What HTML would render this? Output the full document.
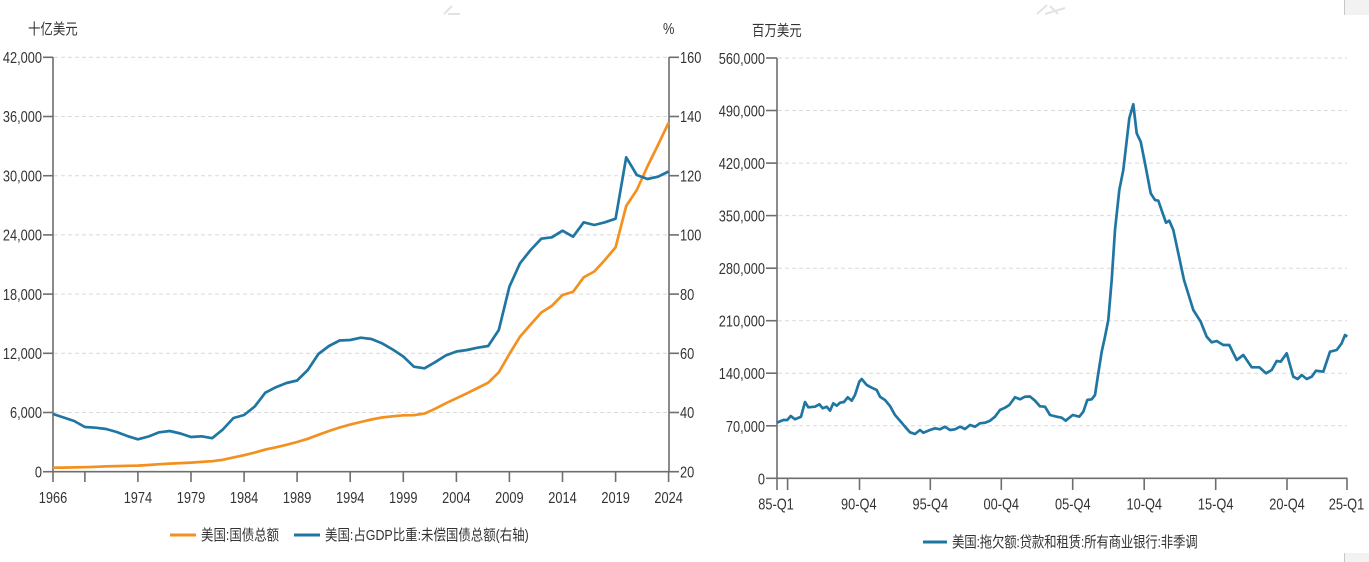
<!DOCTYPE html>
<html><head><meta charset="utf-8"><style>
html,body{margin:0;padding:0;background:#fff;}
svg{display:block;}
text{font-family:"Liberation Sans","Noto Sans CJK SC",sans-serif;fill:#333;font-size:16px;}
.cj text{font-size:15px;}
.g{stroke:#d9d9d9;stroke-width:1;stroke-dasharray:4,3;fill:none;}
.ax{stroke:#6e6e6e;stroke-width:1.6;fill:none;}
</style></head><body>
<svg width="1369" height="562" viewBox="0 0 1369 562" xmlns="http://www.w3.org/2000/svg">
<rect x="0" y="0" width="1369" height="562" fill="#fff"/>
<!-- faint watermark marks -->
<path d="M444 14 L452 6 M448 14 L460 14" stroke="#e3e3e3" stroke-width="2" fill="none"/>
<path d="M1037 14 L1047 5 M1045 14 L1065 8 M1050 6 L1058 14" stroke="#e3e3e3" stroke-width="2" fill="none"/>
<rect x="1345" y="0" width="24" height="15" fill="#f2f2f2"/>
<line x1="1344.5" y1="0" x2="1344.5" y2="15" stroke="#c8c8c8"/>
<rect x="1345" y="553" width="24" height="9" fill="#f2f2f2"/>
<line x1="1344.5" y1="553" x2="1344.5" y2="562" stroke="#c8c8c8"/>

<!-- ===== LEFT CHART ===== -->
<g>
<line class="g" x1="54" y1="57.3" x2="669" y2="57.3"/>
<line class="g" x1="54" y1="116.5" x2="669" y2="116.5"/>
<line class="g" x1="54" y1="175.7" x2="669" y2="175.7"/>
<line class="g" x1="54" y1="234.9" x2="669" y2="234.9"/>
<line class="g" x1="54" y1="294.1" x2="669" y2="294.1"/>
<line class="g" x1="54" y1="353.3" x2="669" y2="353.3"/>
<line class="g" x1="54" y1="412.5" x2="669" y2="412.5"/>
</g>
<g class="cj" transform="scale(0.83,1)">
<text x="33.7" y="34">十亿美元</text>
<text x="906" y="35.5">百万美元</text>
</g>
<g transform="scale(0.8,1)">
<text x="828.75" y="34">%</text>
</g>
<!-- left y axis -->
<line class="ax" x1="53" y1="57" x2="53" y2="472"/>
<g class="ax">
<line x1="43" y1="57.3" x2="53" y2="57.3"/>
<line x1="43" y1="116.5" x2="53" y2="116.5"/>
<line x1="43" y1="175.7" x2="53" y2="175.7"/>
<line x1="43" y1="234.9" x2="53" y2="234.9"/>
<line x1="43" y1="294.1" x2="53" y2="294.1"/>
<line x1="43" y1="353.3" x2="53" y2="353.3"/>
<line x1="43" y1="412.5" x2="53" y2="412.5"/>
<line x1="43" y1="471.7" x2="53" y2="471.7"/>
</g>
<g text-anchor="end" transform="scale(0.8,1)">
<text x="52.5" y="63">42,000</text>
<text x="52.5" y="122.2">36,000</text>
<text x="52.5" y="181.4">30,000</text>
<text x="52.5" y="240.6">24,000</text>
<text x="52.5" y="299.8">18,000</text>
<text x="52.5" y="359">12,000</text>
<text x="52.5" y="418.2">6,000</text>
<text x="52.5" y="477.4">0</text>
</g>
<!-- right y axis -->
<line class="ax" x1="669" y1="57" x2="669" y2="472"/>
<g class="ax">
<line x1="669" y1="57.3" x2="679" y2="57.3"/>
<line x1="669" y1="116.5" x2="679" y2="116.5"/>
<line x1="669" y1="175.7" x2="679" y2="175.7"/>
<line x1="669" y1="234.9" x2="679" y2="234.9"/>
<line x1="669" y1="294.1" x2="679" y2="294.1"/>
<line x1="669" y1="353.3" x2="679" y2="353.3"/>
<line x1="669" y1="412.5" x2="679" y2="412.5"/>
<line x1="669" y1="471.7" x2="679" y2="471.7"/>
</g>
<g transform="scale(0.8,1)">
<text x="850" y="63">160</text>
<text x="850" y="122.2">140</text>
<text x="850" y="181.4">120</text>
<text x="850" y="240.6">100</text>
<text x="850" y="299.8">80</text>
<text x="850" y="359">60</text>
<text x="850" y="418.2">40</text>
<text x="850" y="477.4">20</text>
</g>
<!-- x axis -->
<line class="ax" x1="53" y1="471.7" x2="669" y2="471.7"/>
<g class="ax">
<line x1="53" y1="471.7" x2="53" y2="482"/>
<line x1="84.9" y1="471.7" x2="84.9" y2="482"/>
<line x1="137.9" y1="471.7" x2="137.9" y2="482"/>
<line x1="191" y1="471.7" x2="191" y2="482"/>
<line x1="244.1" y1="471.7" x2="244.1" y2="482"/>
<line x1="297.1" y1="471.7" x2="297.1" y2="482"/>
<line x1="350.2" y1="471.7" x2="350.2" y2="482"/>
<line x1="403.3" y1="471.7" x2="403.3" y2="482"/>
<line x1="456.4" y1="471.7" x2="456.4" y2="482"/>
<line x1="509.4" y1="471.7" x2="509.4" y2="482"/>
<line x1="562.5" y1="471.7" x2="562.5" y2="482"/>
<line x1="615.6" y1="471.7" x2="615.6" y2="482"/>
<line x1="668.6" y1="471.7" x2="668.6" y2="482"/>
</g>
<g text-anchor="middle" transform="scale(0.8,1)">
<text x="66.25" y="503">1966</text>
<text x="172.4" y="503">1974</text>
<text x="238.75" y="503">1979</text>
<text x="305.1" y="503">1984</text>
<text x="371.4" y="503">1989</text>
<text x="437.75" y="503">1994</text>
<text x="504.1" y="503">1999</text>
<text x="570.5" y="503">2004</text>
<text x="636.75" y="503">2009</text>
<text x="703.1" y="503">2014</text>
<text x="769.5" y="503">2019</text>
<text x="835.75" y="503">2024</text>
</g>
<!-- series -->
<polyline fill="none" stroke="#f39020" stroke-width="2.7" stroke-linejoin="round" points="53,467.7 63.6,467.6 74.2,467.4 84.9,467.2 95.5,466.8 106.1,466.4 116.7,466.1 127.3,465.8 137.9,465.6 148.6,465 159.2,464.2 169.8,463.6 180.4,463.1 191,462.6 201.6,461.9 212.2,461.2 222.8,459.8 233.5,457.4 244.1,455.2 254.7,452.6 265.3,449.6 275.9,447.3 286.5,444.8 297.1,442 307.8,438.8 318.4,434.8 329,431 339.6,427.5 350.2,424.6 360.8,422 371.4,419.5 382,417.5 392.7,416.3 403.3,415.3 413.9,415.2 424.5,413.6 435.1,408.8 445.7,403.3 456.4,398.3 467,393.3 477.6,388 488.2,382.7 498.8,372.3 509.4,354 520,336.7 530.6,324.5 541.3,312.5 551.9,305.8 562.5,295 573.1,291.8 583.7,277.3 594.3,271.5 604.9,260 615.6,247.3 626.2,206 636.8,190 647.4,166.5 658,145 668.6,122.7"/>
<polyline fill="none" stroke="#1f76a3" stroke-width="2.7" stroke-linejoin="round" points="53,414 63.6,417.5 74.2,421 84.9,427 95.5,427.7 106.1,429 116.7,432 127.3,436 137.9,439.3 148.6,436.5 159.2,432.3 169.8,431 180.4,433.5 191,437 201.6,436.3 212.2,438.2 222.8,429.5 233.5,418 244.1,415 254.7,406.5 265.3,392.7 275.9,387.2 286.5,383 297.1,380.5 307.8,370 318.4,354 329,346 339.6,340.5 350.2,340 360.8,337.7 371.4,339 382,343.3 392.7,349.5 403.3,356.5 413.9,366.7 424.5,368.3 435.1,362.2 445.7,355.5 456.4,351.5 467,350 477.6,347.7 488.2,346 498.8,330 509.4,286.7 520,263.3 530.6,250 541.3,238.7 551.9,237.3 562.5,230.7 573.1,236.7 583.7,222.3 594.3,225 604.9,222.3 615.6,218.7 626.2,157.3 636.8,175 647.4,179 658,176.7 668.6,171.5"/>
<!-- legend left -->
<line x1="170" y1="535" x2="196" y2="535" stroke="#f39020" stroke-width="3"/>
<line x1="294" y1="535" x2="320" y2="535" stroke="#1f76a3" stroke-width="3"/>
<g class="cj" transform="scale(0.83,1)">
<text x="242.2" y="540">美国:国债总额</text>
<text x="391.6" y="540">美国:占GDP比重:未偿国债总额(右轴)</text>
<text x="1147" y="547" textLength="296">美国:拖欠额:贷款和租赁:所有商业银行:非季调</text>
</g>

<!-- ===== RIGHT CHART ===== -->
<g>
<line class="g" x1="778" y1="58" x2="1347" y2="58"/>
<line class="g" x1="778" y1="110.5" x2="1347" y2="110.5"/>
<line class="g" x1="778" y1="163.1" x2="1347" y2="163.1"/>
<line class="g" x1="778" y1="215.6" x2="1347" y2="215.6"/>
<line class="g" x1="778" y1="268.2" x2="1347" y2="268.2"/>
<line class="g" x1="778" y1="320.7" x2="1347" y2="320.7"/>
<line class="g" x1="778" y1="373.2" x2="1347" y2="373.2"/>
<line class="g" x1="778" y1="425.8" x2="1347" y2="425.8"/>
</g>
<line class="ax" x1="777" y1="58" x2="777" y2="479"/>
<g class="ax">
<line x1="766" y1="58" x2="777" y2="58"/>
<line x1="766" y1="110.5" x2="777" y2="110.5"/>
<line x1="766" y1="163.1" x2="777" y2="163.1"/>
<line x1="766" y1="215.6" x2="777" y2="215.6"/>
<line x1="766" y1="268.2" x2="777" y2="268.2"/>
<line x1="766" y1="320.7" x2="777" y2="320.7"/>
<line x1="766" y1="373.2" x2="777" y2="373.2"/>
<line x1="766" y1="425.8" x2="777" y2="425.8"/>
<line x1="766" y1="478.3" x2="777" y2="478.3"/>
</g>
<g text-anchor="end" transform="scale(0.8,1)">
<text x="956.25" y="64">560,000</text>
<text x="956.25" y="116.5">490,000</text>
<text x="956.25" y="169">420,000</text>
<text x="956.25" y="221.6">350,000</text>
<text x="956.25" y="274.1">280,000</text>
<text x="956.25" y="326.7">210,000</text>
<text x="956.25" y="379.2">140,000</text>
<text x="956.25" y="431.8">70,000</text>
<text x="956.25" y="484.3">0</text>
</g>
<line class="ax" x1="777" y1="478.3" x2="1347.5" y2="478.3"/>
<g class="ax">
<line x1="777" y1="478.3" x2="777" y2="490"/>
<line x1="787.6" y1="478.3" x2="787.6" y2="490"/>
<line x1="859.5" y1="478.3" x2="859.5" y2="490"/>
<line x1="930.3" y1="478.3" x2="930.3" y2="490"/>
<line x1="1001.3" y1="478.3" x2="1001.3" y2="490"/>
<line x1="1072.7" y1="478.3" x2="1072.7" y2="490"/>
<line x1="1144.2" y1="478.3" x2="1144.2" y2="490"/>
<line x1="1215.7" y1="478.3" x2="1215.7" y2="490"/>
<line x1="1287" y1="478.3" x2="1287" y2="490"/>
<line x1="1347" y1="478.3" x2="1347" y2="490"/>
</g>
<g text-anchor="middle" transform="scale(0.8,1)">
<text x="970" y="509.5">85-Q1</text>
<text x="1073.5" y="509.5">90-Q4</text>
<text x="1162.9" y="509.5">95-Q4</text>
<text x="1251.6" y="509.5">00-Q4</text>
<text x="1341" y="509.5">05-Q4</text>
<text x="1430.3" y="509.5">10-Q4</text>
<text x="1519.6" y="509.5">15-Q4</text>
<text x="1608.75" y="509.5">20-Q4</text>
<text x="1683.1" y="509.5">25-Q1</text>
</g>
<polyline fill="none" stroke="#1f76a3" stroke-width="2.7" stroke-linejoin="round" points="776.7,422.7 783.3,420 787.3,420 790.7,416 795,419.3 801,416.7 805,402 808.3,407.3 815,406.7 819.3,404.3 822.7,408.3 826.7,406.7 830,410.7 833.3,403.3 836.7,405.7 840,402.7 844,402 847.7,397.3 851.7,400.7 855,395 859.3,381.7 861.7,379 866.7,385 871.7,387.7 876.7,390 880,396.7 885,400 890,406 895,415 901.7,422.7 905,426.7 910,432.3 915,434 920,430 923.3,432.7 930,430 935,428.3 940,429.3 945,426.7 950,430 955,429.3 960,426.7 965,429 970,425 975,426.7 980,423.3 985,422.7 990,420.7 995,416.7 1000,410 1005,407.7 1009.3,405 1015,397.3 1020,399.3 1025,396.7 1030,396.5 1035,400.7 1040,406.3 1045,406.7 1050,415 1056.7,416.7 1061.7,417.7 1065.7,420.7 1072.7,415 1079.3,416.7 1083.3,411.7 1087.3,400 1091.7,399.3 1095,395 1098.3,373.3 1101.7,351.7 1105,336.7 1108.3,320 1111.7,280 1115,230 1119.3,190 1123.3,170 1129.3,118.3 1133.3,104.3 1136.7,133.3 1140.7,141.7 1145,163.3 1150.7,193.3 1155,200 1158.3,200.7 1162.7,213.3 1166,222.7 1169.3,220.7 1173.3,230 1178.3,253.3 1184,280 1193.3,310 1200.7,321.7 1206.7,336.7 1211.7,342.3 1216.7,341 1223.3,345 1229.3,345 1236.7,360 1243.3,355 1251.7,367.3 1259.3,367.3 1266,373.3 1271.7,370 1276.7,361 1280.7,361.7 1286.7,353.3 1293.3,376.7 1297.7,379 1301.7,375 1306.7,379 1311.7,376.7 1316,370.7 1323.3,371.7 1330,351.7 1336.7,350 1341.7,343.3 1345,335 1347.3,336.7"/>
<line x1="923" y1="542" x2="947" y2="542" stroke="#1f76a3" stroke-width="3"/>
</svg>
</body></html>
